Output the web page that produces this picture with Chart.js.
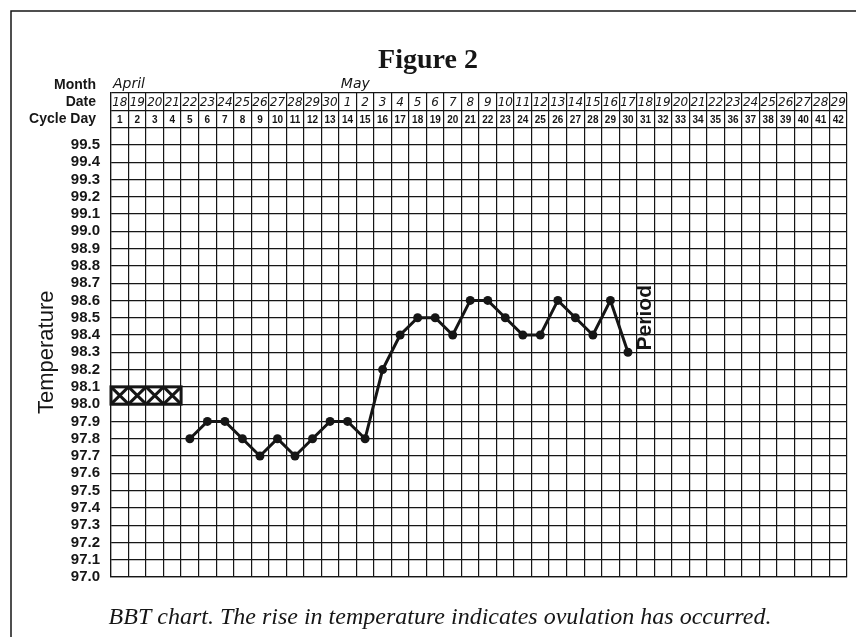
<!DOCTYPE html>
<html>
<head>
<meta charset="utf-8">
<title>Figure 2</title>
<script src="https://cdn.jsdelivr.net/npm/chart.js@4.4.1/dist/chart.umd.min.js"></script>
<style>
  body { margin: 0; background: #fff; }
  #wrap { width: 856px; height: 637px; }
</style>
</head>
<body>
<div id="wrap"><canvas id="bbt" width="856" height="637"></canvas></div>
<script>
// chart data
var cycleDays = [1, 2, 3, 4, 5, 6, 7, 8, 9, 10, 11, 12, 13, 14, 15, 16, 17, 18, 19, 20, 21,
                 22, 23, 24, 25, 26, 27, 28, 29, 30, 31, 32, 33, 34, 35, 36, 37, 38, 39, 40, 41, 42];
var dates = ["18", "19", "20", "21", "22", "23", "24", "25", "26", "27", "28", "29", "30",
             "1", "2", "3", "4", "5", "6", "7", "8", "9", "10", "11", "12", "13", "14", "15",
             "16", "17", "18", "19", "20", "21", "22", "23", "24", "25", "26", "27", "28", "29"];
var months = ["April", "May"];
var monthStart = [1, 14];

var tempDays = [5, 6, 7, 8, 9, 10, 11, 12, 13, 14, 15, 16, 17, 18, 19, 20, 21, 22, 23, 24, 25, 26, 27, 28, 29, 30];
var temps = [97.8, 97.9, 97.9, 97.8, 97.7, 97.8, 97.7, 97.8, 97.9, 97.9, 97.8, 98.2, 98.4,
             98.5, 98.5, 98.4, 98.6, 98.6, 98.5, 98.4, 98.4, 98.6, 98.5, 98.4, 98.6, 98.3];

// crossed-out days and the "Period" note
var xxxDays = [1, 2, 3, 4];
var xxxRange = [98.0, 98.1];
var periodDay = 31;
var periodTemp = 98.5;

// temperature axis: two extra rows on top hold the date / cycle day boxes
var yMin = 97.0;
var yMax = 99.8;
var yLastLabel = 99.5;

var ink = "#161616";

var lineData = cycleDays.map(function (d) {
  var i = tempDays.indexOf(d);
  return i < 0 ? null : temps[i];
});

var bbtDecor = {
  id: "bbtDecor",
  beforeDraw: function (chart) {
    var ctx = chart.ctx;
    ctx.save();
    ctx.strokeStyle = ink;
    ctx.lineWidth = 1.5;
    ctx.beginPath();
    ctx.moveTo(11, chart.height);
    ctx.lineTo(11, 11);
    ctx.lineTo(chart.width, 11);
    ctx.stroke();
    ctx.restore();
  },
  beforeDatasetsDraw: function (chart) {
    var ctx = chart.ctx, x = chart.scales.x, y = chart.scales.y;
    var colW = x.getPixelForValue(1) - x.getPixelForValue(0);
    var top = y.getPixelForValue(xxxRange[1]), bot = y.getPixelForValue(xxxRange[0]);
    ctx.save();
    ctx.strokeStyle = ink;
    ctx.lineWidth = 3;
    var l = x.getPixelForValue(xxxDays[0] - 1) - colW / 2;
    var r = x.getPixelForValue(xxxDays[xxxDays.length - 1] - 1) + colW / 2;
    ctx.strokeRect(l, top, r - l, bot - top);
    xxxDays.forEach(function (d) {
      var cx = x.getPixelForValue(d - 1);
      ctx.beginPath();
      ctx.moveTo(cx - colW / 2, top);
      ctx.lineTo(cx + colW / 2, bot);
      ctx.moveTo(cx + colW / 2, top);
      ctx.lineTo(cx - colW / 2, bot);
      ctx.stroke();
    });
    ctx.restore();
  },
  afterDraw: function (chart) {
    var ctx = chart.ctx, x = chart.scales.x, y = chart.scales.y;
    var area = chart.chartArea;
    var colW = x.getPixelForValue(1) - x.getPixelForValue(0);
    var dateY = (y.getPixelForValue(yMax) + y.getPixelForValue(yMax - 0.1)) / 2;
    var cycY = (y.getPixelForValue(yMax - 0.1) + y.getPixelForValue(yMax - 0.2)) / 2;
    var rowH = y.getPixelForValue(yMax - 0.1) - y.getPixelForValue(yMax);
    var monthY = dateY - rowH;

    ctx.save();
    ctx.fillStyle = ink;
    ctx.textBaseline = "middle";

    // title
    ctx.textAlign = "center";
    ctx.font = "bold 28px 'Liberation Serif'";
    ctx.fillText("Figure 2", chart.width / 2, 61);

    // row captions
    ctx.textAlign = "right";
    ctx.font = "bold 14px 'Liberation Sans'";
    ctx.fillText("Month", area.left - 15, monthY + 1);
    ctx.fillText("Date", area.left - 15, dateY);
    ctx.fillText("Cycle Day", area.left - 15, cycY);

    // months and dates (handwritten)
    ctx.textAlign = "left";
    ctx.font = "italic 14px 'DejaVu Sans'";
    months.forEach(function (m, i) {
      ctx.fillText(m, x.getPixelForValue(monthStart[i] - 1) - colW / 2 + 2, monthY);
    });
    ctx.textAlign = "center";
    ctx.font = "italic 12px 'DejaVu Sans'";
    dates.forEach(function (d, i) {
      ctx.fillText(d, x.getPixelForValue(i), dateY + 1);
    });

    // cycle day numbers
    ctx.font = "bold 10px 'Liberation Sans'";
    cycleDays.forEach(function (d, i) {
      ctx.fillText(String(d), x.getPixelForValue(i), cycY + 1);
    });

    // axis title, centred on the temperature grid
    ctx.save();
    ctx.translate(47, (y.getPixelForValue(yMin) + y.getPixelForValue(yMax - 0.2)) / 2);
    ctx.rotate(-Math.PI / 2);
    ctx.font = "22px 'Liberation Sans'";
    ctx.fillText("Temperature", 0, 0);
    ctx.restore();

    // Period note
    ctx.save();
    ctx.translate(x.getPixelForValue(periodDay - 1), y.getPixelForValue(periodTemp));
    ctx.rotate(-Math.PI / 2);
    ctx.font = "bold 21px 'Liberation Sans'";
    ctx.fillText("Period", 0, 0);
    ctx.restore();

    // caption
    ctx.font = "italic 24px 'Liberation Serif'";
    ctx.fillText("BBT chart. The rise in temperature indicates ovulation has occurred.", 440, 618);
    ctx.restore();
  }
};

new Chart("bbt", {
  type: "line",
  data: {
    labels: cycleDays.map(String),
    datasets: [
      {
        data: lineData,
        borderColor: ink,
        borderWidth: 3,
        backgroundColor: ink,
        pointRadius: 4.5,
        pointHoverRadius: 4.5,
        pointBackgroundColor: ink,
        pointBorderWidth: 0,
        tension: 0,
        spanGaps: false
      }
    ]
  },
  options: {
    responsive: false,
    animation: false,
    devicePixelRatio: 1,
    layout: { padding: { left: 11, right: 9, top: 93, bottom: 60 } },
    plugins: {
      legend: { display: false },
      tooltip: { enabled: false }
    },
    scales: {
      x: {
        type: "category",
        offset: true,
        grid: { offset: true, color: ink, lineWidth: 1.2, drawTicks: false },
        border: { color: ink, width: 1.2 },
        ticks: { display: false }
      },
      y: {
        min: yMin,
        max: yMax,
        afterFit: function (scale) { scale.width = 100; },
        grid: { color: ink, lineWidth: 1.2, drawTicks: false },
        border: { color: ink, width: 1.2 },
        ticks: {
          stepSize: 0.1,
          autoSkip: false,
          padding: 11,
          color: ink,
          font: { family: "'Liberation Sans'", size: 15, weight: "bold" },
          callback: function (v) {
            return v > yLastLabel + 0.001 ? "" : Number(v).toFixed(1);
          }
        },
        title: { display: false }
      }
    }
  },
  plugins: [bbtDecor]
});
</script>
</body>
</html>
